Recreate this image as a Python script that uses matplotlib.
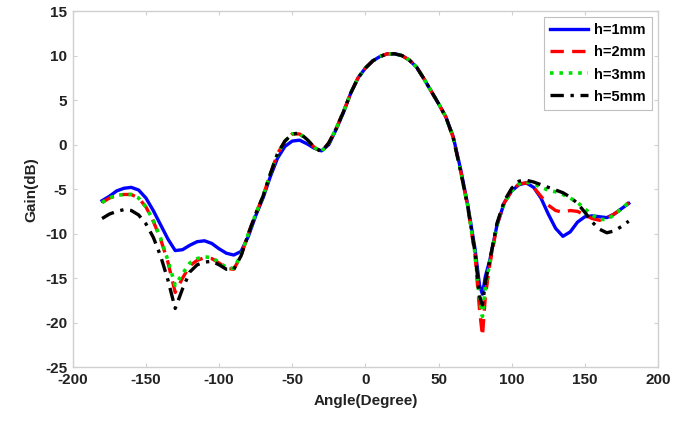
import matplotlib
matplotlib.use("Agg")
import matplotlib.pyplot as plt

angles = [-180,-175,-170,-165,-160,-155,-150,-145,-140,-135,-130,-125,-120,-115,-110,-105,-100,-95,-90,
          -85,-80,-75,-70,-65,-60,-55,-50,-45,-40,-35,-30,-25,-20,-15,-10,-5,0,5,10,15,20,25,30,35,40,
          45,50,55,60,65,70,75,78,80,82,85,90,95,100,105,110,115,120,125,130,135,140,145,150,155,160,
          165,170,175,180]

gain_h1 = [-6.3,-5.8,-5.2,-4.9,-4.8,-5.1,-6.0,-7.4,-9.0,-10.6,-11.9,-11.8,-11.3,-10.9,-10.8,-11.1,-11.7,-12.2,-12.4,
           -12.0,-10.3,-8.0,-6.0,-3.6,-1.5,-0.2,0.4,0.5,0.1,-0.4,-0.7,0.0,1.7,3.6,5.8,7.5,8.6,9.4,9.9,10.2,10.2,
           10.0,9.5,8.7,7.4,6.0,4.6,3.1,0.9,-2.7,-6.8,-11.8,-15.8,-16.8,-14.8,-13.0,-9.0,-6.5,-5.2,-4.5,-4.3,
           -4.8,-6.0,-7.8,-9.4,-10.3,-9.8,-8.7,-8.1,-8.0,-8.1,-8.2,-7.8,-7.2,-6.6]

gain_h2 = [-6.5,-6.0,-5.7,-5.6,-5.6,-6.0,-7.0,-8.6,-10.6,-13.2,-16.6,-15.0,-13.6,-13.0,-12.7,-12.8,-13.3,-13.9,-14.0,
           -12.5,-10.0,-7.8,-5.8,-3.3,-1.0,0.4,1.2,1.2,0.6,-0.3,-0.8,0.2,1.8,3.7,5.8,7.5,8.6,9.4,9.9,10.2,10.2,
           10.0,9.5,8.7,7.4,6.0,4.6,3.1,0.8,-2.9,-7.0,-12.5,-18.5,-21.5,-17.0,-13.5,-9.0,-6.5,-5.2,-4.4,-4.3,
           -4.8,-5.8,-6.8,-7.4,-7.6,-7.4,-7.5,-7.9,-8.3,-8.5,-8.3,-7.8,-7.2,-6.5]

gain_h3 = [-6.5,-6.0,-5.7,-5.6,-5.6,-6.0,-7.0,-8.5,-10.5,-13.0,-15.8,-14.5,-13.3,-12.8,-12.6,-12.7,-13.2,-13.8,-13.9,
           -12.4,-10.0,-7.8,-5.8,-3.3,-1.0,0.4,1.2,1.2,0.6,-0.3,-0.8,0.2,1.8,3.7,5.8,7.5,8.6,9.4,9.9,10.2,10.2,
           10.0,9.5,8.7,7.4,6.0,4.6,3.1,0.8,-2.9,-7.0,-12.3,-17.5,-19.3,-16.0,-13.3,-9.0,-6.5,-5.2,-4.4,-4.2,
           -4.4,-4.8,-5.1,-5.3,-5.6,-6.0,-6.5,-7.2,-7.9,-8.4,-8.4,-7.9,-7.2,-6.5]

gain_h5 = [-8.3,-7.8,-7.5,-7.3,-7.4,-7.9,-8.9,-10.4,-12.5,-15.2,-18.4,-16.2,-14.3,-13.5,-13.2,-13.1,-13.5,-14.0,-14.0,
           -12.5,-10.0,-7.8,-5.8,-3.3,-1.0,0.4,1.2,1.3,0.6,-0.3,-0.8,0.2,1.8,3.7,5.8,7.5,8.6,9.4,9.9,10.2,10.2,
           10.0,9.5,8.7,7.4,6.0,4.6,3.1,0.8,-2.9,-7.0,-12.2,-17.0,-18.0,-15.5,-13.0,-8.8,-6.3,-4.9,-4.1,-4.0,
           -4.2,-4.5,-4.8,-5.1,-5.4,-5.9,-6.6,-7.6,-8.7,-9.5,-9.9,-9.7,-9.2,-8.6]

labels = ["h=1mm", "h=2mm", "h=3mm", "h=5mm"]

plt.rcParams['font.family'] = ['Liberation Sans', 'DejaVu Sans']
plt.rcParams['font.weight'] = 'bold'
plt.rcParams['axes.unicode_minus'] = False

fig = plt.figure(figsize=(7.0, 4.26), dpi=100)
ax = fig.add_axes([0.104, 0.138, 0.836, 0.836])

ax.plot(angles, gain_h1, color='#0000ff', lw=2.4, ls='-', label=labels[0])
ax.plot(angles, gain_h2, color='#ff0000', lw=2.4, ls=(0, (4, 2.5)), label=labels[1])
ax.plot(angles, gain_h3, color='#00e000', lw=2.6, ls=(0, (1, 1.6)), label=labels[2])
ax.plot(angles, gain_h5, color='#000000', lw=2.4, ls=(0, (4, 2, 1, 2)), label=labels[3])

ax.set_xlim(-200, 200)
ax.set_ylim(-25, 15)
ax.set_xticks(range(-200, 201, 50))
ax.set_yticks(range(-25, 16, 5))

for s in ax.spines.values():
    s.set_color('#d0d0d0')
    s.set_linewidth(1.0)
ax.tick_params(direction='in', top=True, right=True, length=3, color='#d0d0d0',
               labelsize=11, labelcolor='#222222', pad=4)
for lbl in ax.get_xticklabels() + ax.get_yticklabels():
    lbl.set_fontweight('bold')

ax.set_xlabel('Angle(Degree)', fontsize=11, fontweight='bold', color='#222222', labelpad=5)
ax.set_ylabel('Gain(dB)', fontsize=11, fontweight='bold', color='#222222', labelpad=5)

leg = ax.legend(loc='upper right', prop={'weight': 'bold', 'size': 10.5}, fancybox=False,
                edgecolor='#c0c0c0', framealpha=1, handlelength=2.6, borderpad=0.45,
                labelspacing=0.55, handletextpad=0.4, borderaxespad=0.4)
leg.get_frame().set_linewidth(0.8)

fig.savefig('out.png', dpi=100)
